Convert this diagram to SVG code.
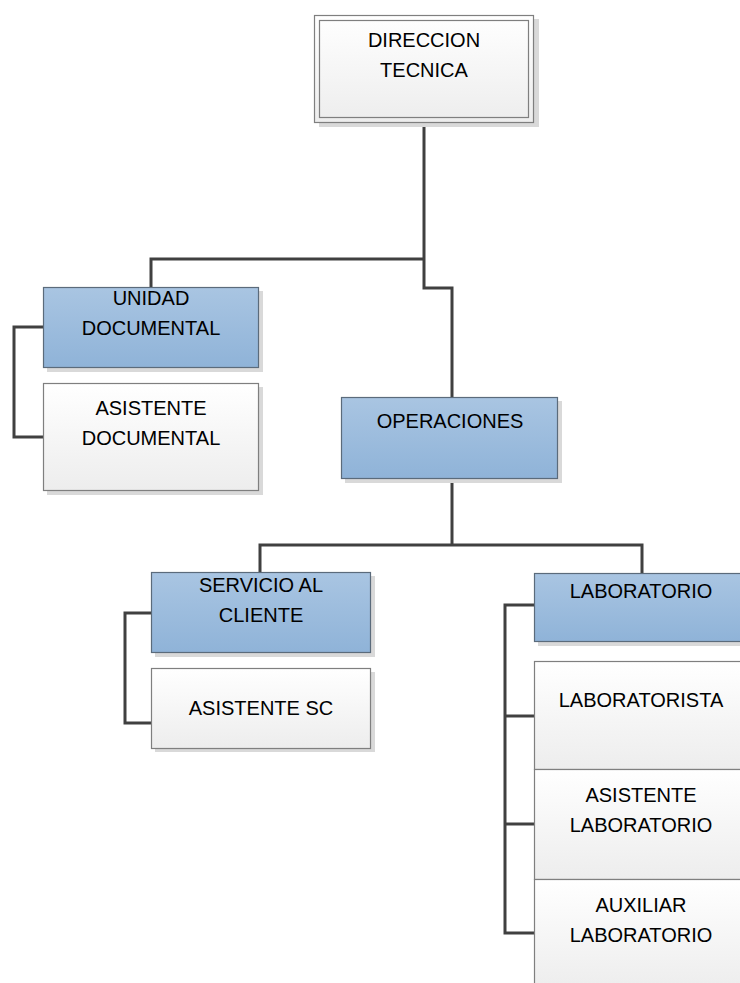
<svg xmlns="http://www.w3.org/2000/svg" width="740" height="983" viewBox="0 0 740 983">
  <defs>
    <linearGradient id="gBlue" x1="0" y1="0" x2="0" y2="1">
      <stop offset="0" stop-color="#a9c5e2"/>
      <stop offset="1" stop-color="#8fb3d8"/>
    </linearGradient>
    <linearGradient id="gWhite" x1="0" y1="0" x2="0" y2="1">
      <stop offset="0" stop-color="#ffffff"/>
      <stop offset="1" stop-color="#ededed"/>
    </linearGradient>
    <style>
      .shadow { fill: #d9d9d9; }
      .blue { fill: url(#gBlue); stroke: #5b6b7b; stroke-width: 1.2; }
      .white { fill: url(#gWhite); stroke: #7f7f7f; stroke-width: 1.2; }
      .frame { fill: none; stroke: #7f7f7f; stroke-width: 1.2; }
      .lbl { font-family: "Liberation Sans", Arial, sans-serif; font-size: 20px; fill: #000; text-anchor: middle; }
      .conn { fill: none; stroke: #404040; stroke-width: 3; }
    </style>
  </defs>

  <rect width="740" height="983" fill="#ffffff"/>

  <!-- connectors -->
  <g id="connectors" class="conn">
    <polyline points="424,123 424,288 452,288 452,397"/>
    <polyline points="151,287 151,259 424,259"/>
    <polyline points="43,327 14,327 14,437 43,437"/>
    <polyline points="452,479 452,545"/>
    <polyline points="260,572 260,545 642,545 642,573"/>
    <polyline points="151,613 125,613 125,723 151,723"/>
    <polyline points="534,605 505,605 505,933 534,933"/>
    <polyline points="505,716 534,716"/>
    <polyline points="505,824 534,824"/>
  </g>

  <!-- top node -->
  <g id="direccion-tecnica">
    <rect class="shadow" x="319" y="19" width="220" height="108"/>
    <rect class="white" x="314.5" y="15.5" width="219" height="107"/>
    <rect class="frame" x="319.5" y="20.5" width="209" height="97"/>
    <text class="lbl" x="424" y="47">DIRECCION</text>
    <text class="lbl" x="424" y="77">TECNICA</text>
  </g>

  <g id="unidad-documental">
    <rect class="shadow" x="47" y="291" width="216" height="81"/>
    <rect class="blue" x="43.5" y="287.5" width="215" height="80"/>
    <text class="lbl" x="151" y="305">UNIDAD</text>
    <text class="lbl" x="151" y="335">DOCUMENTAL</text>
  </g>

  <g id="asistente-documental">
    <rect class="shadow" x="47" y="387" width="216" height="108"/>
    <rect class="white" x="43.5" y="383.5" width="215" height="107"/>
    <text class="lbl" x="151" y="415">ASISTENTE</text>
    <text class="lbl" x="151" y="445">DOCUMENTAL</text>
  </g>

  <g id="operaciones">
    <rect class="shadow" x="345" y="401" width="217" height="82"/>
    <rect class="blue" x="341.5" y="397.5" width="216" height="81"/>
    <text class="lbl" x="450" y="428">OPERACIONES</text>
  </g>

  <g id="servicio-cliente">
    <rect class="shadow" x="155" y="576" width="220" height="81"/>
    <rect class="blue" x="151.5" y="572.5" width="219" height="80"/>
    <text class="lbl" x="261" y="592">SERVICIO AL</text>
    <text class="lbl" x="261" y="622">CLIENTE</text>
  </g>

  <g id="asistente-sc">
    <rect class="shadow" x="155" y="672" width="220" height="80"/>
    <rect class="white" x="151.5" y="668.5" width="219" height="80"/>
    <text class="lbl" x="261" y="715">ASISTENTE SC</text>
  </g>

  <g id="laboratorio">
    <rect class="shadow" x="538" y="577" width="216" height="69"/>
    <rect class="blue" x="534.5" y="573.5" width="215" height="68"/>
    <text class="lbl" x="641" y="598">LABORATORIO</text>
  </g>

  <g id="laboratorista">
    <rect class="white" x="534.5" y="661.5" width="215" height="108"/>
    <text class="lbl" x="641" y="707">LABORATORISTA</text>
  </g>

  <g id="asistente-laboratorio">
    <rect class="white" x="534.5" y="769.5" width="215" height="110"/>
    <text class="lbl" x="641" y="802">ASISTENTE</text>
    <text class="lbl" x="641" y="832">LABORATORIO</text>
  </g>

  <g id="auxiliar-laboratorio">
    <rect class="white" x="534.5" y="879.5" width="215" height="110"/>
    <text class="lbl" x="641" y="912">AUXILIAR</text>
    <text class="lbl" x="641" y="942">LABORATORIO</text>
  </g>
</svg>
